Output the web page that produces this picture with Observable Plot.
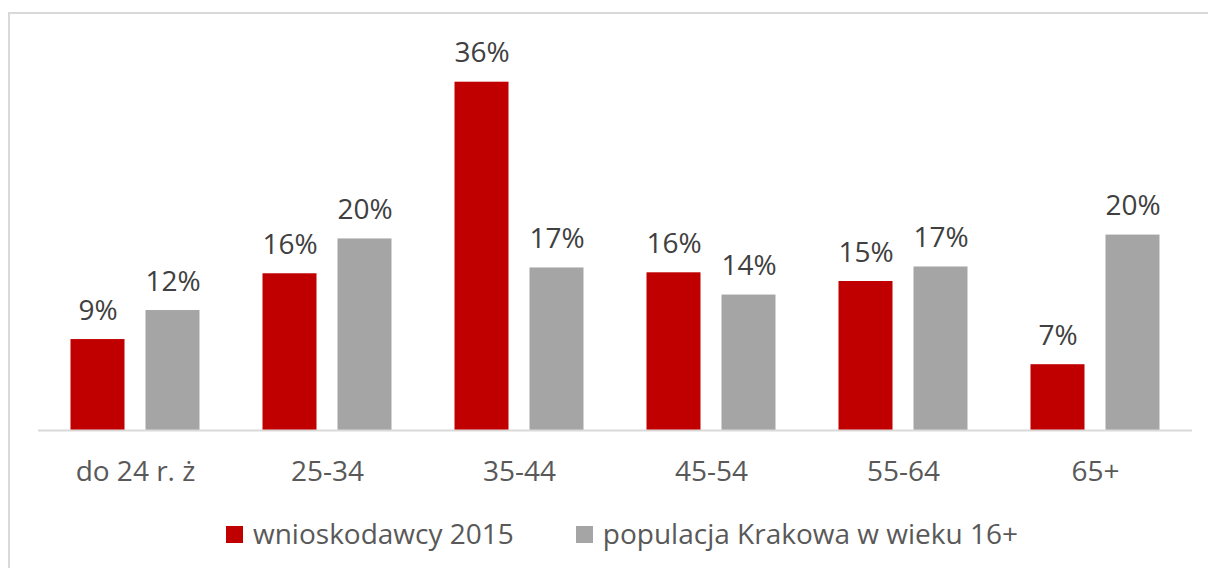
<!DOCTYPE html>
<html>
<head>
<meta charset="utf-8">
<script src="https://cdn.jsdelivr.net/npm/d3@7"></script>
<script src="https://cdn.jsdelivr.net/npm/@observablehq/plot@0.6"></script>
<style>
  body { margin: 0; background: #fff; font-family: "Open Sans", sans-serif; }
  #wrap { position: relative; width: 1208px; height: 568px; overflow: hidden; }
  #frame { position: absolute; left: 8px; top: 12px; width: 1300px; height: 700px;
           border-left: 2px solid #d9d9d9; border-top: 2px solid #d9d9d9; }
  #chart { position: absolute; left: 0; top: 0; }
  #legend { position: absolute; left: 226px; top: 519px; display: flex; align-items: center;
            font-size: 28px; line-height: 28px; color: #595959; white-space: nowrap; }
  .item { display: flex; align-items: center; }
  .sw { width: 17px; height: 17px; margin-right: 10px; margin-top: 2px; }
</style>
</head>
<body>
<div id="wrap">
  <div id="frame"></div>
  <div id="chart"></div>
  <div id="legend"></div>
</div>
<script>
const categories = ["do 24 r. ż", "25-34", "35-44", "45-54", "55-64", "65+"];
const seriesNames = ["wnioskodawcy 2015", "populacja Krakowa w wieku 16+"];
const applicants2015 = [9.4, 16.2, 36.0, 16.3, 15.4, 6.8];
const krakowPopulation16 = [12.4, 19.8, 16.8, 14.0, 16.9, 20.2];
const seriesColors = ["#C00000", "#A5A5A5"];

const redData = categories.map((c, i) => ({cat: c, value: applicants2015[i]}));
const grayData = categories.map((c, i) => ({cat: c, value: krakowPopulation16[i]}));
const fmt = d => Math.round(d.value) + "%";

const chart = Plot.plot({
  width: 1208,
  height: 505,
  marginLeft: 38,
  marginRight: 16,
  marginTop: 43,
  marginBottom: 75,
  style: { fontFamily: "Open Sans, sans-serif", fontSize: "28px", color: "#595959", background: "transparent" },
  x: { domain: categories, padding: 0, label: null, tickSize: 0, tickPadding: 31 },
  y: { domain: [0, 40], axis: null },
  marks: [
    Plot.barY(redData, { x: "cat", y: "value", fill: seriesColors[0], insetLeft: 31.5, insetRight: 106.5 }),
    Plot.barY(grayData, { x: "cat", y: "value", fill: seriesColors[1], insetLeft: 106.5, insetRight: 31.5 }),
    Plot.ruleY([0], { stroke: "#d9d9d9", strokeWidth: 2 }),
    Plot.text(redData, { x: "cat", y: "value", text: fmt, dx: -37.5, dy: -20, lineAnchor: "bottom", fontSize: 28, fill: "#404040" }),
    Plot.text(grayData, { x: "cat", y: "value", text: fmt, dx: 37.5, dy: -20, lineAnchor: "bottom", fontSize: 28, fill: "#404040" })
  ]
});
document.getElementById("chart").appendChild(chart);

const legend = document.getElementById("legend");
seriesNames.forEach((name, i) => {
  const item = document.createElement("div");
  item.className = "item";
  if (i > 0) item.style.marginLeft = "62px";
  const sw = document.createElement("span");
  sw.className = "sw";
  sw.style.background = seriesColors[i];
  const label = document.createElement("span");
  label.textContent = name;
  item.appendChild(sw);
  item.appendChild(label);
  legend.appendChild(item);
});
</script>
</body>
</html>
